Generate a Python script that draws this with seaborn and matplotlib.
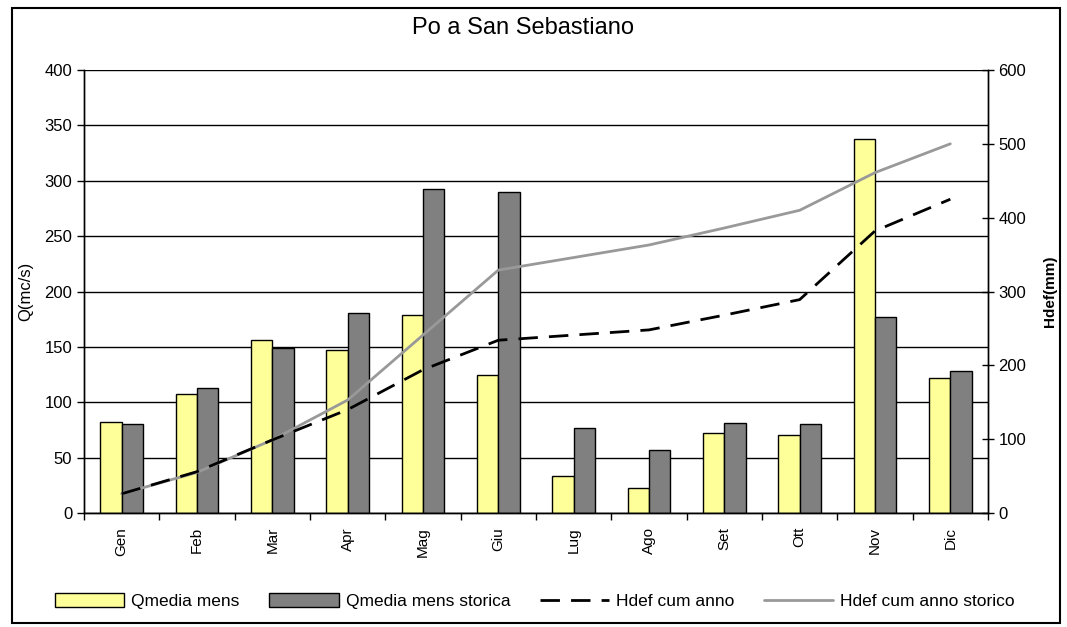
import numpy as np
import pandas as pd
import matplotlib
matplotlib.use("Agg")
import matplotlib.pyplot as plt
import seaborn as sns
from matplotlib.patches import Patch, Rectangle
from matplotlib.lines import Line2D

mesi = ["Gen", "Feb", "Mar", "Apr", "Mag", "Giu", "Lug", "Ago", "Set", "Ott", "Nov", "Dic"]
q_media_mens = [82, 107, 156, 147, 179, 125, 33, 23, 72, 70, 338, 122]
q_media_storica = [80, 113, 149, 181, 293, 290, 77, 57, 81, 80, 177, 128]
hdef_cum_anno = [26, 56, 99, 140, 194, 234, 241, 248, 268, 289, 382, 425]
hdef_cum_storico = [26, 55, 99, 153, 241, 329, 346, 363, 386, 410, 461, 500]

sns.set_theme(style="white", rc={"text.color": "black", "axes.labelcolor": "black",
                                 "xtick.color": "black", "ytick.color": "black"})
plt.rcParams["font.family"] = ["Liberation Sans", "DejaVu Sans"]

fig = plt.figure(figsize=(10.67, 6.27), dpi=100)
ax = fig.add_axes([84 / 1067, 114 / 627, 904 / 1067, 443 / 627])

bars = pd.DataFrame({
    "mese": mesi * 2,
    "Q": q_media_mens + q_media_storica,
    "serie": ["Qmedia mens"] * 12 + ["Qmedia mens storica"] * 12,
})
sns.barplot(data=bars, x="mese", y="Q", hue="serie", order=mesi,
            palette=["#FFFF99", "#808080"], width=0.57, gap=0,
            edgecolor="black", linewidth=1, saturation=1, ax=ax, legend=False)

ax.set_ylim(0, 400)
ax.set_xlim(-0.5, 11.5)
ax.set_yticks(np.arange(0, 401, 50))
ax.yaxis.grid(True, color="black", linewidth=1)
ax.set_axisbelow(True)
ax.set_xticks(range(12))
ax.set_xticklabels(mesi, rotation=90, fontsize=11)
ax.set_xticks(np.arange(-0.5, 12, 1), minor=True)
ax.tick_params(axis="x", which="major", length=0, pad=10)
ax.tick_params(axis="x", which="minor", length=5, width=1, color="black", direction="out", bottom=True)
ax.tick_params(axis="y", length=5, width=1, color="black", direction="out", left=True, labelsize=12)
ax.set_xlabel("")
ax.set_ylabel("Q(mc/s)", fontsize=12, labelpad=8)
for s in ["left", "bottom", "right"]:
    ax.spines[s].set_color("black")
    ax.spines[s].set_linewidth(1)
ax.spines["top"].set_visible(False)

ax2 = ax.twinx()
linee = pd.DataFrame({"x": list(range(12)), "anno": hdef_cum_anno, "storico": hdef_cum_storico})
sns.lineplot(data=linee, x="x", y="storico", color="#999999", linewidth=2, ax=ax2)
sns.lineplot(data=linee, x="x", y="anno", color="black", linewidth=2, ax=ax2)
ax2.lines[1].set_dashes([7, 4])
ax2.set_ylim(0, 600)
ax2.set_yticks(np.arange(0, 601, 100))
ax2.tick_params(axis="y", length=8, width=1, color="black", direction="inout", right=True, labelsize=12)
ax2.set_ylabel("Hdef(mm)", fontsize=11, fontweight="bold", labelpad=12)
ax2.set_xlabel("")
ax2.set_xlim(-0.5, 11.5)
for s in ["left", "bottom", "right"]:
    ax2.spines[s].set_color("black")
    ax2.spines[s].set_linewidth(1)
ax2.spines["top"].set_visible(False)

fig.text(523 / 1067, 1 - 28 / 627, "Po a San Sebastiano", ha="center", va="center", fontsize=17)

handles = [
    Patch(facecolor="#FFFF99", edgecolor="black", linewidth=1),
    Patch(facecolor="#808080", edgecolor="black", linewidth=1),
    Line2D([], [], color="black", linewidth=2, dashes=[7, 4]),
    Line2D([], [], color="#999999", linewidth=2),
]
labels = ["Qmedia mens", "Qmedia mens storica", "Hdef cum anno", "Hdef cum anno storico"]
fig.legend(handles, labels, loc="center", bbox_to_anchor=(535 / 1067, 1 - 601 / 627),
           ncol=4, frameon=False, fontsize=12.5, handlelength=4.0, handleheight=0.9,
           columnspacing=1.7, handletextpad=0.4)

fig.patches.append(Rectangle((12 / 1067, 4 / 627), 1048 / 1067, 615 / 627,
                             transform=fig.transFigure, fill=False,
                             edgecolor="black", linewidth=1.5))

fig.savefig("out.png", dpi=100)
